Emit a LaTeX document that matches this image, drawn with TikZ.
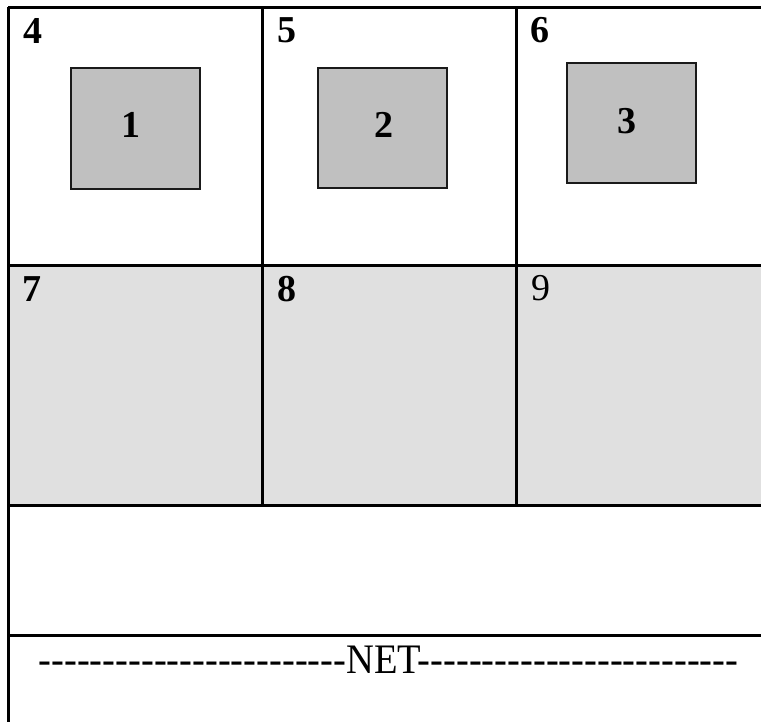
\documentclass[tikz,border=0pt]{standalone}
\usepackage{fontspec}
\setmainfont{Liberation Serif}
\definecolor{rowgray}{HTML}{E0E0E0}
\definecolor{boxgray}{HTML}{C0C0C0}
\definecolor{boxline}{HTML}{1A1A1A}
\newcommand\hyphenrun[1]{\foreach \k in {1,...,#1}{-\kern0pt}}
\tikzset{
  gridline/.style={line width=3pt, black},
  innerbox/.style={draw=boxline, line width=2pt, fill=boxgray},
  cellnum/.style={anchor=base west, inner sep=0pt, font=\fontsize{38}{38}\selectfont\bfseries},
  cellnumreg/.style={anchor=base west, inner sep=0pt, font=\fontsize{38}{38}\selectfont},
  boxnum/.style={anchor=base, inner sep=0pt, font=\fontsize{38}{38}\selectfont\bfseries},
  nettext/.style={anchor=base, inner sep=0pt, font=\fontsize{42}{42}\selectfont}
}
\begin{document}
\begin{tikzpicture}[x=1pt,y=-1pt]
\useasboundingbox (0,0) rectangle (761,721);
\fill[rowgray] (8,265) rectangle (762,505);
% inner boxes
\draw[innerbox] (71,68) rectangle (200,189);
\draw[innerbox] (318,68) rectangle (447,188);
\draw[innerbox] (567,63) rectangle (696,183);
% grid
\coordinate (tl) at (8,7);
\coordinate (tr) at (763,7);
\coordinate (bl) at (8,723);
\draw[gridline] (tl) -- (tr);
\draw[gridline] (tl) -- (bl);
\draw[gridline] (8,265) -- (763,265);
\draw[gridline] (8,505) -- (763,505);
\draw[gridline] (8,635) -- (763,635);
\draw[gridline] (262,7) -- (262,505);
\draw[gridline] (516,7) -- (516,505);
% labels
\node[cellnum] (n4) at (23,43) {4};
\node[cellnum] (n5) at (277,42) {5};
\node[cellnum] (n6) at (530,42) {6};
\node[cellnum] (n7) at (22,301) {7};
\node[cellnum] (n8) at (277,301) {8};
\node[cellnumreg] (n9) at (531,300) {9};
\node[boxnum] (n1) at (131,137) {1};
\node[boxnum] (n2) at (384,137) {2};
\node[boxnum] (n3) at (627,133) {3};
\node[nettext] (net) at (388.5,673) {\scalebox{0.917}[1]{\hyphenrun{24}NET\hyphenrun{25}}};
\end{tikzpicture}
\end{document}
